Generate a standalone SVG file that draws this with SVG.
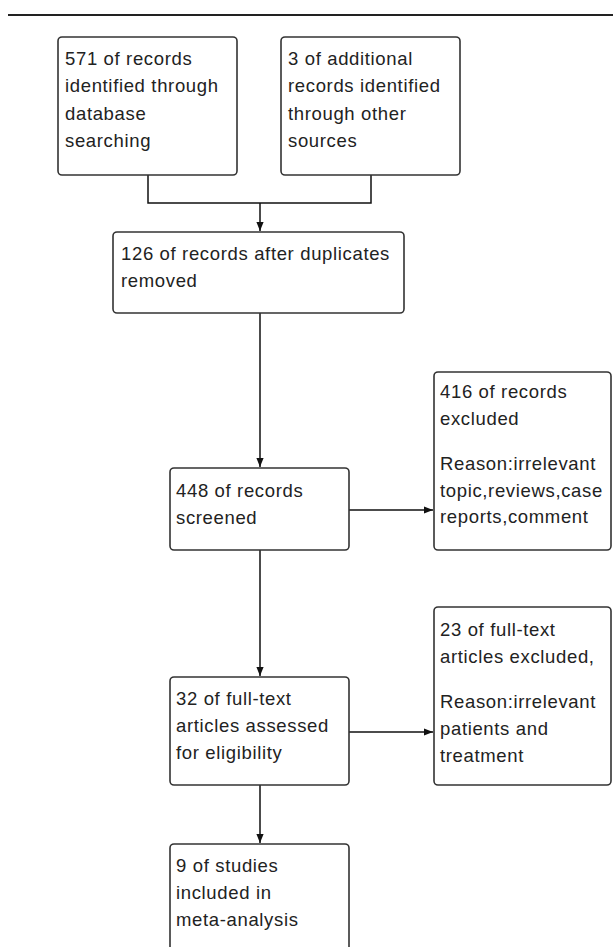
<svg xmlns="http://www.w3.org/2000/svg" width="613" height="947" viewBox="0 0 613 947">
<style>
.box{fill:#fff;stroke:#333;stroke-width:1.6}
.t{font-family:"Liberation Sans",Arial,sans-serif;font-size:18.5px;fill:#222;letter-spacing:0.65px}
.c{fill:none;stroke:#111;stroke-width:1.5}
</style>
<defs>
<marker id="ah" viewBox="0 0 10 10" refX="10" refY="5" markerWidth="9" markerHeight="9" markerUnits="userSpaceOnUse" orient="auto">
<path d="M0,1 L10,5 L0,9 z" fill="#111"/>
</marker>
</defs>
<rect x="0" y="0" width="613" height="947" fill="#fff"/>
<line x1="8" y1="15" x2="613" y2="15" stroke="#222" stroke-width="2"/>
<g id="connectors">
<path class="c" d="M148,175 V203 H371 V175"/>
<path class="c" d="M260,203 V231" marker-end="url(#ah)"/>
<path class="c" d="M260,313 V467" marker-end="url(#ah)"/>
<path class="c" d="M349,510 H433" marker-end="url(#ah)"/>
<path class="c" d="M260,550 V676" marker-end="url(#ah)"/>
<path class="c" d="M349,732 H433" marker-end="url(#ah)"/>
<path class="c" d="M260,785 V843" marker-end="url(#ah)"/>
</g>
<g id="n1">
<rect class="box" x="58" y="37" width="179" height="138" rx="4"/>
<text class="t" x="65" y="65">571 of records</text>
<text class="t" x="65" y="92">identified through</text>
<text class="t" x="65" y="120">database</text>
<text class="t" x="65" y="147">searching</text>
</g>
<g id="n2">
<rect class="box" x="281" y="37" width="179" height="138" rx="4"/>
<text class="t" x="288" y="65">3 of additional</text>
<text class="t" x="288" y="92">records identified</text>
<text class="t" x="288" y="120">through other</text>
<text class="t" x="288" y="147">sources</text>
</g>
<g id="n3">
<rect class="box" x="113" y="232" width="291" height="81" rx="4"/>
<text class="t" x="121" y="260">126 of records after duplicates</text>
<text class="t" x="121" y="287">removed</text>
</g>
<g id="n4">
<rect class="box" x="170" y="468" width="179" height="82" rx="4"/>
<text class="t" x="176" y="497">448 of records</text>
<text class="t" x="176" y="524">screened</text>
</g>
<g id="n5">
<rect class="box" x="434" y="372" width="177" height="178" rx="4"/>
<text class="t" x="440" y="398">416 of records</text>
<text class="t" x="440" y="425">excluded</text>
<text class="t" x="440" y="470">Reason:irrelevant</text>
<text class="t" x="440" y="497">topic,reviews,case</text>
<text class="t" x="440" y="523">reports,comment</text>
</g>
<g id="n6">
<rect class="box" x="170" y="677" width="179" height="108" rx="4"/>
<text class="t" x="176" y="705">32 of full-text</text>
<text class="t" x="176" y="732">articles assessed</text>
<text class="t" x="176" y="759">for eligibility</text>
</g>
<g id="n7">
<rect class="box" x="434" y="607" width="177" height="178" rx="4"/>
<text class="t" x="440" y="636">23 of full-text</text>
<text class="t" x="440" y="663">articles excluded,</text>
<text class="t" x="440" y="708">Reason:irrelevant</text>
<text class="t" x="440" y="735">patients and</text>
<text class="t" x="440" y="762">treatment</text>
</g>
<g id="n8">
<rect class="box" x="170" y="844" width="179" height="120" rx="4"/>
<text class="t" x="176" y="872">9 of studies</text>
<text class="t" x="176" y="899">included in</text>
<text class="t" x="176" y="926">meta-analysis</text>
</g>
</svg>
